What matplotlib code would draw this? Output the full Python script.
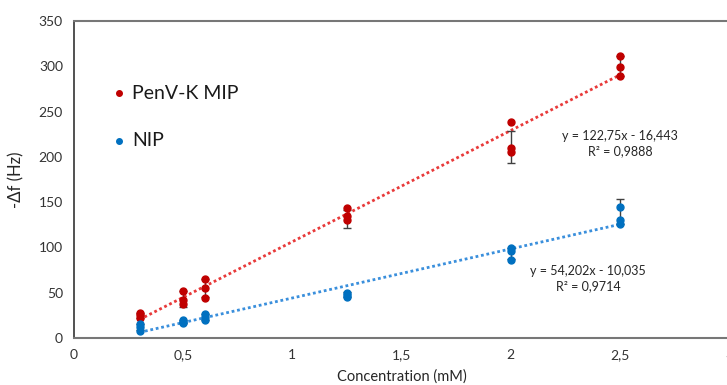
import matplotlib.pyplot as plt
import numpy as np

plt.rcParams['font.family'] = ['Lato', 'DejaVu Sans']

# concentrations (mM) and replicate responses (-delta f, Hz)
conc = [0.3, 0.5, 0.6, 1.25, 2.0, 2.5]
mip_reps = [[28, 25, 22], [52, 42, 38], [65, 55, 44],
            [144, 135, 130], [238, 210, 205], [311, 299, 289]]
nip_reps = [[15, 12, 8], [20, 18, 16], [26, 23, 20],
            [50, 48, 45], [99, 96, 86], [145, 130, 126]]

# error bars as drawn (centre, half-width)
mip_center = [25, 43, 55, 131, 211, 300]
mip_err = [3, 9, 10, 10, 18, 11]
nip_center = [12, 18, 23, 48, 93, 140]
nip_err = [3, 2, 3, 3, 6, 14]

# linear fits
mip_fit = (122.75, -16.443)
nip_fit = (54.202, -10.035)
mip_eq = 'y = 122,75x - 16,443\nR² = 0,9888'
nip_eq = 'y = 54,202x - 10,035\nR² = 0,9714'

red = '#c00000'
blue = '#0070c0'

fig = plt.figure(figsize=(7.27, 3.85), dpi=100)
ax = fig.add_axes([0.1018, 0.1221, 0.901, 0.8234])

# error bars first so dots sit on top
ax.errorbar(conc, mip_center, yerr=mip_err, fmt='none', ecolor='#404040',
            elinewidth=1, capsize=3, zorder=2)
ax.errorbar(conc, nip_center, yerr=nip_err, fmt='none', ecolor='#404040',
            elinewidth=1, capsize=3, zorder=2)

# trend lines
xl = np.array([conc[0], conc[-1]])
ax.plot(xl, mip_fit[0] * xl + mip_fit[1], color='#e83a3a', lw=2,
        linestyle=(0, (1, 1)), zorder=1)
ax.plot(xl, nip_fit[0] * xl + nip_fit[1], color='#3a8fdc', lw=2,
        linestyle=(0, (1, 1)), zorder=1)

# replicate points
for c, reps in zip(conc, mip_reps):
    ax.plot([c] * len(reps), reps, 'o', color=red, ms=5, zorder=3)
for c, reps in zip(conc, nip_reps):
    ax.plot([c] * len(reps), reps, 'o', color=blue, ms=5, zorder=3)

ax.text(2.5, 215, mip_eq, ha='center', va='center', fontsize=9,
        linespacing=1.3, color='#262626')
ax.text(2.355, 66, nip_eq, ha='center', va='center', fontsize=9,
        linespacing=1.3, color='#262626')

# legend drawn like the original: dot + large label
ax.plot([0.205], [270], 'o', color=red, ms=4)
ax.text(0.265, 270, 'PenV-K MIP', fontsize=14, va='center', color='#1a1a1a')
ax.plot([0.205], [218], 'o', color=blue, ms=4)
ax.text(0.265, 218, 'NIP', fontsize=14, va='center', color='#1a1a1a')

ax.set_xlim(0, 3)
ax.set_ylim(0, 350)
ax.set_xticks([0, 0.5, 1, 1.5, 2, 2.5, 3])
ax.set_xticklabels(['0', '0,5', '1', '1,5', '2', '2,5', '3'])
ax.set_yticks(range(0, 351, 50))
ax.tick_params(length=0, labelsize=10, colors='#333333', pad=8)

for s in ['top', 'bottom']:
    ax.spines[s].set_color('#777777')
    ax.spines[s].set_linewidth(1.5)
ax.spines['left'].set_color('#333333')
ax.spines['left'].set_linewidth(1.2)
ax.spines['right'].set_visible(False)

ax.set_xlabel('Concentration (mM)', fontsize=10.5, color='#262626', labelpad=6)
ax.set_ylabel('-Δf (Hz)', fontsize=12, color='#262626', labelpad=10)

fig.savefig('out.png', dpi=100)
